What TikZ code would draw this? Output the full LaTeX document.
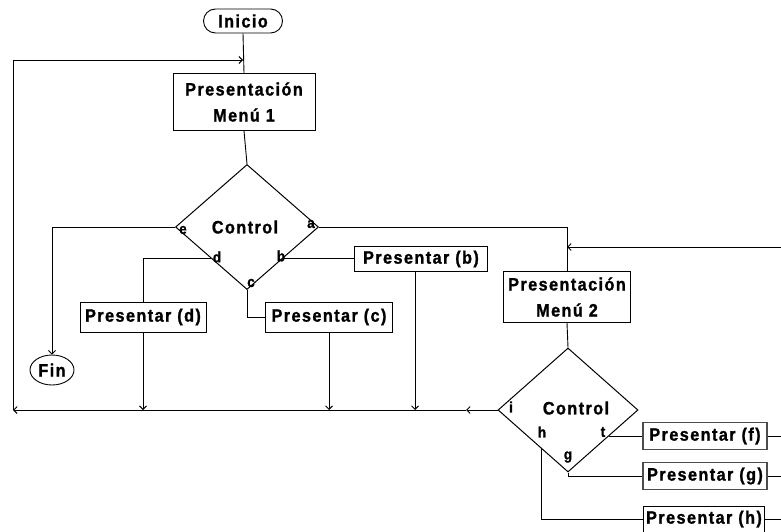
\documentclass[tikz,border=0pt]{standalone}
\usepackage{fontspec}
\setmainfont{Liberation Sans}[LetterSpace=8, FakeStretch=0.9, BoldFeatures={FakeBold=1.2}]
\usetikzlibrary{shapes.geometric,arrows.meta,calc}

\begin{document}
\begin{tikzpicture}[x=1pt,y=-1pt,
  line width=0.9pt,
  every node/.style={font=\bfseries\fontsize{18}{26}\selectfont, inner sep=0pt},
  box/.style={draw, rectangle, align=center, line width=0.8pt},
  shbox/.style={draw=black!70, rectangle, align=center, line width=1.6pt},
  dec/.style={draw, diamond, line width=1pt},
  term/.style={draw, line width=0.9pt},
  lab/.style={font=\bfseries\fontsize{15}{15}\selectfont},
  tip/.style={-{Straight Barb[length=3.5pt,width=7pt]}}
]
\useasboundingbox (0,0) rectangle (781,532);

% terminals
\node[term, rectangle, rounded corners=12pt, minimum width=79pt, minimum height=24pt] (ini) at (243,21) {Inicio};
\node[term, ellipse, minimum width=44pt, minimum height=30pt] (fin) at (52,370) {Fin};

% first menu and its control
\node[box, minimum width=142pt, minimum height=57pt] (m1) at (244,102) {Presentación\\Menú 1};
\node[dec, minimum width=143pt, minimum height=125pt] (c1) at (247,227) {};
\node (t1) at (245,227) {Control};
\node[lab] (le) at (183,230) {e};
\node[lab] (la) at (311,224) {a};
\node[lab] (ld) at (217,257) {d};
\node[lab] (lbb) at (281,256) {b};
\node[lab] (lc) at (251,283) {c};

\node[box, minimum width=126pt, minimum height=30pt] (pd) at (143,317) {Presentar (d)};
\node[box, minimum width=127pt, minimum height=30pt] (pc) at (329,317) {Presentar (c)};
\node[box, minimum width=133pt, minimum height=25pt] (pb) at (421,259) {Presentar (b)};

% second menu and its control
\node[box, minimum width=127pt, minimum height=51pt] (m2) at (567,297) {Presentación\\Menú 2};
\node[dec, minimum width=140pt, minimum height=124pt] (c2) at (568,410) {};
\node (t2) at (576,408) {Control};
\node[lab] (li) at (511,407) {i};
\node[lab] (lh) at (542,432) {h};
\node[lab] (lt2) at (603,432) {t};
\node[lab] (lg) at (568,457) {g};

\node[shbox, minimum width=124pt, minimum height=27pt] (pf) at (705,436) {Presentar (f)};
\node[shbox, minimum width=124pt, minimum height=27pt] (pg) at (705,476) {Presentar (g)};
\node[box, minimum width=121pt, minimum height=26pt] (ph) at (704,519) {Presentar (h)};

% junction points
\coordinate (top1) at (243,60);
\coordinate (lt) at (13,60);
\coordinate (lb) at (13,410);
\coordinate (imid) at (466,410);
\coordinate (rin) at (781,247);
\coordinate (dpt) at ($(c1.west)!0.5!(c1.south)$);
\coordinate (bpt) at ($(c1.east)!0.5!(c1.south)$);
\coordinate (tpt) at ($(c2.east)!0.42!(c2.south)$);
\coordinate (hpt) at ($(c2.west)!0.62!(c2.south)$);
\coordinate (pbs) at ($(pb.south)+(-6,0)$);

% main flow
\draw (ini.south) -- (m1.north);
\draw (m1.south) -- (c1.north);
\draw[tip] (c1.west) -| (fin.north);
\draw (dpt) -| (pd.north);
\draw (c1.south) |- (pc.west);
\draw (bpt) -- (bpt -| pb.west);
\draw (c1.east) -| (m2.north);
\draw[tip] (rin) -- (rin -| m2.north);
\draw (m2.south) -- (c2.north);

% returns to the bottom line
\draw[tip] (pd.south) -- (pd.south |- lb);
\draw[tip] (pc.south) -- (pc.south |- lb);
\draw[tip] (pbs) -- (pbs |- lb);
\draw[tip] (c2.west) -- (imid);
\draw[tip] (imid) -- (lb);
\draw[tip] (lb) -- (lt) -- (top1);

% second control branches
\draw (tpt) -- (tpt -| pf.west);
\draw (c2.south) |- (pg.west);
\draw (hpt) |- (ph.west);
\draw (pf.east) -- (pf.east -| rin);
\draw (pg.east) -- (pg.east -| rin);
\draw (ph.east) -- (ph.east -| rin);
\end{tikzpicture}
\end{document}
